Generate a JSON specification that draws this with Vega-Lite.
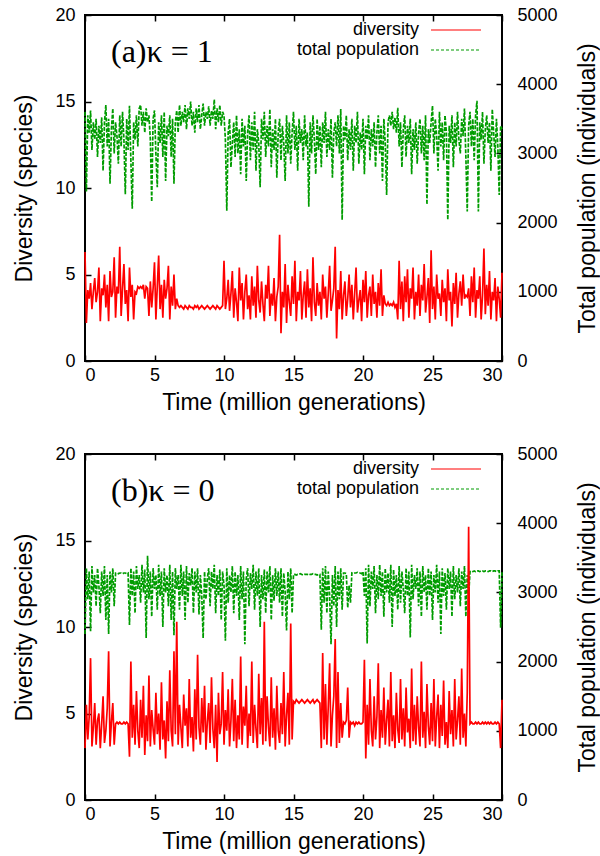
{
"$schema": "https://vega.github.io/schema/vega-lite/v6.json",
"padding": {"left": 12, "top": 5, "right": 0, "bottom": 2},
"spacing": 29,
"config": {
 "font": "Liberation Sans",
 "view": {"stroke": "black", "strokeWidth": 2},
 "axis": {"domain": false, "grid": false, "labelFont": "Liberation Sans", "labelFontSize": 18, "labelColor": "black", "titleFont": "Liberation Sans", "titleFontSize": 23, "titleFontWeight": "normal", "titleColor": "black", "tickColor": "black", "tickSize": -6, "tickWidth": 1.5}
},
"resolve": {"scale": {"color": "independent", "x": "independent", "y": "independent"}},
"datasets": {
"a": [
{"t":0.0,"d":6.3,"p":3600},{"t":0.1,"d":2.2,"p":2450},{"t":0.2,"d":4.1,"p":3550},{"t":0.3,"d":3.6,"p":3300},{"t":0.4,"d":4.5,"p":3620},{"t":0.5,"d":3.0,"p":3050},{"t":0.6,"d":4.0,"p":3450},{"t":0.7,"d":4.8,"p":3200},{"t":0.8,"d":3.4,"p":3500},{"t":0.9,"d":4.0,"p":2950},
{"t":1.0,"d":5.4,"p":3400},{"t":1.1,"d":2.3,"p":3150},{"t":1.2,"d":4.2,"p":3520},{"t":1.3,"d":3.8,"p":2750},{"t":1.4,"d":5.0,"p":3450},{"t":1.5,"d":3.1,"p":3700},{"t":1.6,"d":4.4,"p":3100},{"t":1.7,"d":2.3,"p":3500},{"t":1.8,"d":5.2,"p":2560},{"t":1.9,"d":3.7,"p":3350},
{"t":2.0,"d":4.0,"p":3650},{"t":2.1,"d":6.0,"p":3000},{"t":2.2,"d":2.5,"p":3450},{"t":2.3,"d":4.3,"p":3250},{"t":2.4,"d":3.9,"p":2850},{"t":2.5,"d":6.6,"p":3550},{"t":2.6,"d":2.6,"p":3100},{"t":2.7,"d":4.2,"p":3600},{"t":2.8,"d":5.6,"p":3200},{"t":2.9,"d":3.3,"p":2410},
{"t":3.0,"d":4.1,"p":3500},{"t":3.1,"d":2.3,"p":3050},{"t":3.2,"d":5.4,"p":3690},{"t":3.3,"d":3.7,"p":2900},{"t":3.4,"d":4.4,"p":2200},{"t":3.5,"d":2.4,"p":3450},{"t":3.6,"d":4.0,"p":3200},{"t":3.7,"d":3.9,"p":3550},{"t":3.8,"d":4.3,"p":3100},{"t":3.9,"d":4.2,"p":3650},
{"t":4.0,"d":4.3,"p":3700},{"t":4.1,"d":4.2,"p":3400},{"t":4.2,"d":4.4,"p":3600},{"t":4.3,"d":3.6,"p":3300},{"t":4.4,"d":4.3,"p":3650},{"t":4.5,"d":4.2,"p":3450},{"t":4.6,"d":2.6,"p":3550},{"t":4.7,"d":4.6,"p":3200},{"t":4.8,"d":3.1,"p":2300},{"t":4.9,"d":4.2,"p":3500},
{"t":5.0,"d":5.7,"p":3620},{"t":5.1,"d":2.4,"p":3000},{"t":5.2,"d":4.3,"p":2510},{"t":5.3,"d":6.1,"p":3450},{"t":5.4,"d":3.0,"p":3150},{"t":5.5,"d":4.4,"p":3550},{"t":5.6,"d":2.5,"p":2950},{"t":5.7,"d":4.7,"p":3600},{"t":5.8,"d":3.6,"p":2600},{"t":5.9,"d":4.2,"p":3400},
{"t":6.0,"d":5.5,"p":3250},{"t":6.1,"d":2.4,"p":3550},{"t":6.2,"d":4.3,"p":2950},{"t":6.3,"d":3.2,"p":3500},{"t":6.4,"d":5.0,"p":2560},{"t":6.5,"d":3.0,"p":3450},{"t":6.6,"d":3.6,"p":3620},{"t":6.7,"d":3.2,"p":3300},{"t":6.8,"d":3.1,"p":3700},{"t":6.9,"d":3.2,"p":3400},
{"t":7.0,"d":3.1,"p":3600},{"t":7.1,"d":3.0,"p":3450},{"t":7.2,"d":3.2,"p":3700},{"t":7.3,"d":3.1,"p":3350},{"t":7.4,"d":3.0,"p":3650},{"t":7.5,"d":3.2,"p":3500},{"t":7.6,"d":3.1,"p":3750},{"t":7.7,"d":3.1,"p":3400},{"t":7.8,"d":3.0,"p":3600},{"t":7.9,"d":3.2,"p":3300},
{"t":8.0,"d":3.1,"p":3650},{"t":8.1,"d":3.2,"p":3450},{"t":8.2,"d":3.0,"p":3700},{"t":8.3,"d":3.1,"p":3350},{"t":8.4,"d":3.2,"p":3550},{"t":8.5,"d":3.1,"p":3720},{"t":8.6,"d":3.0,"p":3400},{"t":8.7,"d":3.1,"p":3600},{"t":8.8,"d":3.2,"p":3500},{"t":8.9,"d":3.1,"p":3680},
{"t":9.0,"d":3.0,"p":3400},{"t":9.1,"d":3.1,"p":3620},{"t":9.2,"d":3.2,"p":3500},{"t":9.3,"d":3.1,"p":3780},{"t":9.4,"d":3.0,"p":3350},{"t":9.5,"d":3.2,"p":3650},{"t":9.6,"d":3.1,"p":3450},{"t":9.7,"d":3.0,"p":3700},{"t":9.8,"d":3.1,"p":3400},{"t":9.9,"d":3.2,"p":3600},
{"t":10.0,"d":5.8,"p":3550},{"t":10.1,"d":3.0,"p":3200},{"t":10.2,"d":3.6,"p":2170},{"t":10.3,"d":4.7,"p":3300},{"t":10.4,"d":2.9,"p":3500},{"t":10.5,"d":3.9,"p":2800},{"t":10.6,"d":5.2,"p":3150},{"t":10.7,"d":2.5,"p":3450},{"t":10.8,"d":4.2,"p":2950},{"t":10.9,"d":3.4,"p":3550},
{"t":11.0,"d":2.3,"p":3000},{"t":11.1,"d":5.4,"p":3350},{"t":11.2,"d":3.5,"p":2700},{"t":11.3,"d":4.5,"p":3500},{"t":11.4,"d":2.4,"p":3100},{"t":11.5,"d":4.0,"p":3400},{"t":11.6,"d":5.0,"p":2600},{"t":11.7,"d":3.0,"p":3300},{"t":11.8,"d":3.8,"p":3550},{"t":11.9,"d":2.4,"p":2900},
{"t":12.0,"d":4.9,"p":3450},{"t":12.1,"d":3.2,"p":3050},{"t":12.2,"d":4.3,"p":3600},{"t":12.3,"d":2.5,"p":2750},{"t":12.4,"d":5.5,"p":3350},{"t":12.5,"d":3.5,"p":3150},{"t":12.6,"d":2.8,"p":2510},{"t":12.7,"d":4.6,"p":3500},{"t":12.8,"d":3.3,"p":3200},{"t":12.9,"d":2.3,"p":3600},
{"t":13.0,"d":4.4,"p":2950},{"t":13.1,"d":3.6,"p":3400},{"t":13.2,"d":5.5,"p":3100},{"t":13.3,"d":2.6,"p":3640},{"t":13.4,"d":3.9,"p":2800},{"t":13.5,"d":3.2,"p":3350},{"t":13.6,"d":4.8,"p":3050},{"t":13.7,"d":2.3,"p":3500},{"t":13.8,"d":3.7,"p":2650},{"t":13.9,"d":4.3,"p":3300},
{"t":14.0,"d":7.3,"p":3500},{"t":14.1,"d":1.6,"p":2900},{"t":14.2,"d":4.0,"p":3400},{"t":14.3,"d":3.1,"p":3150},{"t":14.4,"d":5.6,"p":2600},{"t":14.5,"d":2.2,"p":3550},{"t":14.6,"d":4.4,"p":3000},{"t":14.7,"d":3.4,"p":3450},{"t":14.8,"d":2.6,"p":2850},{"t":14.9,"d":4.9,"p":3300},
{"t":15.0,"d":3.3,"p":3600},{"t":15.1,"d":5.8,"p":3050},{"t":15.2,"d":2.3,"p":3400},{"t":15.3,"d":4.0,"p":2750},{"t":15.4,"d":3.5,"p":3500},{"t":15.5,"d":5.2,"p":3150},{"t":15.6,"d":2.4,"p":3350},{"t":15.7,"d":3.8,"p":2900},{"t":15.8,"d":4.6,"p":3550},{"t":15.9,"d":2.5,"p":3100},
{"t":16.0,"d":5.3,"p":3300},{"t":16.1,"d":3.1,"p":2230},{"t":16.2,"d":4.2,"p":3450},{"t":16.3,"d":2.3,"p":3000},{"t":16.4,"d":6.0,"p":3550},{"t":16.5,"d":3.4,"p":3200},{"t":16.6,"d":2.6,"p":2700},{"t":16.7,"d":4.5,"p":3500},{"t":16.8,"d":3.2,"p":3050},{"t":16.9,"d":4.0,"p":3400},
{"t":17.0,"d":2.4,"p":2800},{"t":17.1,"d":5.0,"p":3450},{"t":17.2,"d":3.6,"p":3150},{"t":17.3,"d":4.3,"p":3600},{"t":17.4,"d":2.5,"p":2950},{"t":17.5,"d":3.9,"p":3350},{"t":17.6,"d":5.5,"p":3050},{"t":17.7,"d":2.9,"p":3500},{"t":17.8,"d":3.5,"p":2650},{"t":17.9,"d":4.2,"p":3300},
{"t":18.0,"d":6.6,"p":3450},{"t":18.1,"d":1.3,"p":3100},{"t":18.2,"d":4.1,"p":3550},{"t":18.3,"d":3.0,"p":3000},{"t":18.4,"d":5.2,"p":3640},{"t":18.5,"d":2.4,"p":2040},{"t":18.6,"d":3.8,"p":3400},{"t":18.7,"d":4.6,"p":3200},{"t":18.8,"d":2.6,"p":3550},{"t":18.9,"d":3.6,"p":2900},
{"t":19.0,"d":5.0,"p":3350},{"t":19.1,"d":3.1,"p":3050},{"t":19.2,"d":4.4,"p":3500},{"t":19.3,"d":2.4,"p":2750},{"t":19.4,"d":3.9,"p":3400},{"t":19.5,"d":5.4,"p":3150},{"t":19.6,"d":2.8,"p":3600},{"t":19.7,"d":3.5,"p":2850},{"t":19.8,"d":4.1,"p":3300},{"t":19.9,"d":2.3,"p":3050},
{"t":20.0,"d":4.7,"p":3500},{"t":20.1,"d":3.4,"p":2700},{"t":20.2,"d":5.2,"p":3400},{"t":20.3,"d":2.5,"p":3200},{"t":20.4,"d":3.8,"p":3550},{"t":20.5,"d":4.3,"p":2900},{"t":20.6,"d":2.6,"p":3350},{"t":20.7,"d":5.0,"p":3100},{"t":20.8,"d":3.3,"p":3450},{"t":20.9,"d":4.0,"p":2800},
{"t":21.0,"d":2.5,"p":3300},{"t":21.1,"d":4.5,"p":3550},{"t":21.2,"d":3.2,"p":3000},{"t":21.3,"d":5.3,"p":3400},{"t":21.4,"d":2.6,"p":2600},{"t":21.5,"d":3.8,"p":3500},{"t":21.6,"d":3.3,"p":3150},{"t":21.7,"d":3.2,"p":2400},{"t":21.8,"d":3.4,"p":3450},{"t":21.9,"d":3.2,"p":3550},
{"t":22.0,"d":3.3,"p":3400},{"t":22.1,"d":3.2,"p":3600},{"t":22.2,"d":3.4,"p":3350},{"t":22.3,"d":3.1,"p":3520},{"t":22.4,"d":3.3,"p":3300},{"t":22.5,"d":2.4,"p":3660},{"t":22.6,"d":5.8,"p":3100},{"t":22.7,"d":3.0,"p":3450},{"t":22.8,"d":4.6,"p":2800},{"t":22.9,"d":2.3,"p":3350},
{"t":23.0,"d":4.9,"p":3550},{"t":23.1,"d":3.4,"p":2950},{"t":23.2,"d":5.3,"p":3400},{"t":23.3,"d":2.5,"p":3150},{"t":23.4,"d":4.2,"p":3500},{"t":23.5,"d":3.6,"p":2700},{"t":23.6,"d":5.4,"p":3350},{"t":23.7,"d":2.4,"p":3050},{"t":23.8,"d":4.0,"p":3450},{"t":23.9,"d":3.2,"p":2850},
{"t":24.0,"d":5.0,"p":3300},{"t":24.1,"d":2.6,"p":3500},{"t":24.2,"d":4.4,"p":3000},{"t":24.3,"d":3.5,"p":3400},{"t":24.4,"d":5.6,"p":2900},{"t":24.5,"d":2.8,"p":3550},{"t":24.6,"d":3.7,"p":2260},{"t":24.7,"d":4.8,"p":3350},{"t":24.8,"d":2.2,"p":3150},{"t":24.9,"d":6.4,"p":3450},
{"t":25.0,"d":3.0,"p":3690},{"t":25.1,"d":4.3,"p":3000},{"t":25.2,"d":2.4,"p":3500},{"t":25.3,"d":5.0,"p":3250},{"t":25.4,"d":3.6,"p":2750},{"t":25.5,"d":3.9,"p":3600},{"t":25.6,"d":2.6,"p":3100},{"t":25.7,"d":4.7,"p":3450},{"t":25.8,"d":3.4,"p":2900},{"t":25.9,"d":4.2,"p":3550},
{"t":26.0,"d":2.3,"p":3300},{"t":26.1,"d":5.3,"p":2040},{"t":26.2,"d":3.5,"p":3400},{"t":26.3,"d":4.0,"p":3150},{"t":26.4,"d":2.0,"p":3550},{"t":26.5,"d":4.5,"p":2800},{"t":26.6,"d":3.3,"p":3450},{"t":26.7,"d":5.1,"p":3100},{"t":26.8,"d":2.5,"p":3600},{"t":26.9,"d":3.9,"p":3200},
{"t":27.0,"d":4.6,"p":3000},{"t":27.1,"d":3.2,"p":3500},{"t":27.2,"d":5.0,"p":3250},{"t":27.3,"d":3.6,"p":3650},{"t":27.4,"d":3.8,"p":2950},{"t":27.5,"d":3.7,"p":2160},{"t":27.6,"d":4.2,"p":3400},{"t":27.7,"d":2.6,"p":3600},{"t":27.8,"d":4.9,"p":3100},{"t":27.9,"d":3.4,"p":3500},
{"t":28.0,"d":5.4,"p":2900},{"t":28.1,"d":2.5,"p":3550},{"t":28.2,"d":4.1,"p":3760},{"t":28.3,"d":3.6,"p":2160},{"t":28.4,"d":4.9,"p":3450},{"t":28.5,"d":2.4,"p":3200},{"t":28.6,"d":3.8,"p":3600},{"t":28.7,"d":6.5,"p":2850},{"t":28.8,"d":2.7,"p":3350},{"t":28.9,"d":4.4,"p":3550},
{"t":29.0,"d":3.2,"p":3150},{"t":29.1,"d":5.2,"p":3450},{"t":29.2,"d":2.4,"p":2750},{"t":29.3,"d":4.0,"p":3640},{"t":29.4,"d":3.5,"p":3300},{"t":29.5,"d":4.8,"p":2950},{"t":29.6,"d":2.3,"p":3500},{"t":29.7,"d":4.3,"p":3100},{"t":29.8,"d":3.6,"p":2400},{"t":29.9,"d":2.5,"p":3400},
{"t":30.0,"d":5.1,"p":3350}
],
"b": [
{"t":0.0,"d":3.0,"p":2400},{"t":0.1,"d":5.5,"p":3350},{"t":0.2,"d":3.5,"p":2900},{"t":0.3,"d":4.8,"p":3300},{"t":0.4,"d":8.2,"p":2440},{"t":0.5,"d":3.1,"p":3380},{"t":0.6,"d":4.2,"p":3000},{"t":0.7,"d":5.6,"p":3250},{"t":0.8,"d":3.2,"p":2800},{"t":0.9,"d":4.6,"p":3350},
{"t":1.0,"d":5.0,"p":3100},{"t":1.1,"d":3.0,"p":2700},{"t":1.2,"d":4.4,"p":3300},{"t":1.3,"d":6.0,"p":2950},{"t":1.4,"d":3.3,"p":3380},{"t":1.5,"d":4.0,"p":2600},{"t":1.6,"d":5.3,"p":3250},{"t":1.7,"d":8.6,"p":2400},{"t":1.8,"d":3.1,"p":3300},{"t":1.9,"d":4.5,"p":3000},
{"t":2.0,"d":5.6,"p":3350},{"t":2.1,"d":3.2,"p":2800},{"t":2.2,"d":4.4,"p":3280},{"t":2.3,"d":4.5,"p":3280},{"t":2.4,"d":4.4,"p":3270},{"t":2.5,"d":4.5,"p":3280},{"t":2.6,"d":4.4,"p":3280},{"t":2.7,"d":4.4,"p":3270},{"t":2.8,"d":4.5,"p":3280},{"t":2.9,"d":4.4,"p":3280},
{"t":3.0,"d":4.5,"p":3270},{"t":3.1,"d":4.4,"p":3280},{"t":3.2,"d":2.5,"p":2530},{"t":3.3,"d":8.0,"p":3350},{"t":3.4,"d":3.6,"p":2950},{"t":3.5,"d":5.5,"p":3300},{"t":3.6,"d":3.2,"p":2700},{"t":3.7,"d":6.3,"p":3380},{"t":3.8,"d":4.0,"p":3050},{"t":3.9,"d":3.0,"p":3250},
{"t":4.0,"d":5.8,"p":2850},{"t":4.1,"d":3.6,"p":3400},{"t":4.2,"d":6.6,"p":3000},{"t":4.3,"d":2.6,"p":3330},{"t":4.4,"d":4.9,"p":2340},{"t":4.5,"d":3.4,"p":3530},{"t":4.6,"d":7.2,"p":2900},{"t":4.7,"d":3.1,"p":3300},{"t":4.8,"d":5.2,"p":2650},{"t":4.9,"d":4.1,"p":3350},
{"t":5.0,"d":3.2,"p":3050},{"t":5.1,"d":6.2,"p":3250},{"t":5.2,"d":3.8,"p":2750},{"t":5.3,"d":5.0,"p":3400},{"t":5.4,"d":2.9,"p":2950},{"t":5.5,"d":6.8,"p":3300},{"t":5.6,"d":3.5,"p":2500},{"t":5.7,"d":4.6,"p":3350},{"t":5.8,"d":2.4,"p":3000},{"t":5.9,"d":5.7,"p":3250},
{"t":6.0,"d":3.4,"p":2800},{"t":6.1,"d":7.5,"p":3400},{"t":6.2,"d":4.0,"p":2600},{"t":6.3,"d":3.1,"p":3300},{"t":6.4,"d":8.6,"p":2380},{"t":6.5,"d":3.8,"p":3350},{"t":6.6,"d":10.3,"p":3050},{"t":6.7,"d":3.2,"p":3250},{"t":6.8,"d":5.5,"p":2750},{"t":6.9,"d":4.2,"p":3400},
{"t":7.0,"d":3.0,"p":2950},{"t":7.1,"d":6.1,"p":3300},{"t":7.2,"d":4.3,"p":2600},{"t":7.3,"d":5.3,"p":3380},{"t":7.4,"d":3.1,"p":2850},{"t":7.5,"d":7.0,"p":3280},{"t":7.6,"d":3.6,"p":3100},{"t":7.7,"d":4.8,"p":3350},{"t":7.8,"d":2.8,"p":2700},{"t":7.9,"d":6.4,"p":3300},
{"t":8.0,"d":3.5,"p":3000},{"t":8.1,"d":8.4,"p":3350},{"t":8.2,"d":4.2,"p":2680},{"t":8.3,"d":3.2,"p":3250},{"t":8.4,"d":5.9,"p":2950},{"t":8.5,"d":3.9,"p":2340},{"t":8.6,"d":6.6,"p":3300},{"t":8.7,"d":2.9,"p":2900},{"t":8.8,"d":4.5,"p":3200},{"t":8.9,"d":5.6,"p":3350},
{"t":9.0,"d":3.3,"p":2800},{"t":9.1,"d":7.1,"p":3300},{"t":9.2,"d":4.1,"p":3050},{"t":9.3,"d":3.0,"p":3400},{"t":9.4,"d":5.5,"p":2700},{"t":9.5,"d":2.2,"p":3250},{"t":9.6,"d":6.2,"p":2950},{"t":9.7,"d":3.8,"p":3330},{"t":9.8,"d":4.4,"p":2600},{"t":9.9,"d":7.4,"p":3300},
{"t":10.0,"d":3.2,"p":3100},{"t":10.1,"d":5.2,"p":2300},{"t":10.2,"d":4.0,"p":3350},{"t":10.3,"d":6.4,"p":2850},{"t":10.4,"d":3.1,"p":3250},{"t":10.5,"d":4.6,"p":3000},{"t":10.6,"d":7.0,"p":3380},{"t":10.7,"d":3.4,"p":2700},{"t":10.8,"d":5.8,"p":3300},{"t":10.9,"d":3.0,"p":2950},
{"t":11.0,"d":4.9,"p":3250},{"t":11.1,"d":3.5,"p":2600},{"t":11.2,"d":8.3,"p":3380},{"t":11.3,"d":3.2,"p":2900},{"t":11.4,"d":5.4,"p":3300},{"t":11.5,"d":4.3,"p":2250},{"t":11.6,"d":6.6,"p":3200},{"t":11.7,"d":3.0,"p":3350},{"t":11.8,"d":5.0,"p":2800},{"t":11.9,"d":3.7,"p":3280},
{"t":12.0,"d":8.0,"p":3050},{"t":12.1,"d":3.3,"p":3400},{"t":12.2,"d":5.5,"p":2750},{"t":12.3,"d":4.1,"p":3300},{"t":12.4,"d":3.0,"p":2950},{"t":12.5,"d":7.3,"p":3350},{"t":12.6,"d":3.8,"p":2500},{"t":12.7,"d":5.9,"p":3250},{"t":12.8,"d":3.2,"p":2900},{"t":12.9,"d":10.3,"p":3330},
{"t":13.0,"d":3.4,"p":2700},{"t":13.1,"d":6.0,"p":3300},{"t":13.2,"d":4.2,"p":3000},{"t":13.3,"d":3.1,"p":3380},{"t":13.4,"d":7.1,"p":2600},{"t":13.5,"d":3.6,"p":3250},{"t":13.6,"d":5.3,"p":2880},{"t":13.7,"d":2.9,"p":3350},{"t":13.8,"d":6.6,"p":2950},{"t":13.9,"d":4.0,"p":3300},
{"t":14.0,"d":3.3,"p":2850},{"t":14.1,"d":5.6,"p":3350},{"t":14.2,"d":3.8,"p":2650},{"t":14.3,"d":7.4,"p":3280},{"t":14.4,"d":3.1,"p":3000},{"t":14.5,"d":4.9,"p":2450},{"t":14.6,"d":6.2,"p":3300},{"t":14.7,"d":3.2,"p":2900},{"t":14.8,"d":10.2,"p":3350},{"t":14.9,"d":3.5,"p":2700},
{"t":15.0,"d":5.7,"p":3260},{"t":15.1,"d":5.6,"p":3260},{"t":15.2,"d":5.8,"p":3250},{"t":15.3,"d":5.7,"p":3260},{"t":15.4,"d":5.6,"p":3260},{"t":15.5,"d":5.7,"p":3270},{"t":15.6,"d":5.8,"p":3260},{"t":15.7,"d":5.7,"p":3250},{"t":15.8,"d":5.6,"p":3260},{"t":15.9,"d":5.7,"p":3260},
{"t":16.0,"d":5.8,"p":3260},{"t":16.1,"d":5.7,"p":3250},{"t":16.2,"d":5.6,"p":3260},{"t":16.3,"d":5.7,"p":3260},{"t":16.4,"d":5.8,"p":3270},{"t":16.5,"d":5.6,"p":3260},{"t":16.6,"d":5.7,"p":3260},{"t":16.7,"d":5.8,"p":3250},{"t":16.8,"d":5.7,"p":3260},{"t":16.9,"d":5.6,"p":3260},
{"t":17.0,"d":3.0,"p":2460},{"t":17.1,"d":8.5,"p":3350},{"t":17.2,"d":3.5,"p":2850},{"t":17.3,"d":6.7,"p":3380},{"t":17.4,"d":3.2,"p":2700},{"t":17.5,"d":5.4,"p":3300},{"t":17.6,"d":7.9,"p":2950},{"t":17.7,"d":3.1,"p":2250},{"t":17.8,"d":4.9,"p":3250},{"t":17.9,"d":6.0,"p":2800},
{"t":18.0,"d":9.3,"p":3380},{"t":18.1,"d":3.0,"p":2500},{"t":18.2,"d":7.4,"p":3300},{"t":18.3,"d":3.3,"p":2900},{"t":18.4,"d":5.6,"p":3350},{"t":18.5,"d":3.6,"p":2750},{"t":18.6,"d":4.5,"p":3280},{"t":18.7,"d":4.4,"p":3280},{"t":18.8,"d":4.6,"p":3270},{"t":18.9,"d":6.5,"p":2780},
{"t":19.0,"d":3.6,"p":3100},{"t":19.1,"d":4.5,"p":2850},{"t":19.2,"d":4.4,"p":3280},{"t":19.3,"d":4.5,"p":3270},{"t":19.4,"d":4.3,"p":3280},{"t":19.5,"d":4.5,"p":3280},{"t":19.6,"d":4.4,"p":3290},{"t":19.7,"d":4.5,"p":3280},{"t":19.8,"d":4.4,"p":3280},{"t":19.9,"d":4.4,"p":3270},
{"t":20.0,"d":4.5,"p":3300},{"t":20.1,"d":8.1,"p":2950},{"t":20.2,"d":2.4,"p":3350},{"t":20.3,"d":5.5,"p":2260},{"t":20.4,"d":3.2,"p":3400},{"t":20.5,"d":7.0,"p":2800},{"t":20.6,"d":4.0,"p":3300},{"t":20.7,"d":3.1,"p":3050},{"t":20.8,"d":6.0,"p":3380},{"t":20.9,"d":3.5,"p":2700},
{"t":21.0,"d":4.8,"p":3250},{"t":21.1,"d":7.9,"p":2900},{"t":21.2,"d":3.0,"p":3400},{"t":21.3,"d":5.2,"p":2950},{"t":21.4,"d":3.6,"p":3300},{"t":21.5,"d":6.5,"p":2650},{"t":21.6,"d":3.2,"p":3350},{"t":21.7,"d":4.6,"p":3000},{"t":21.8,"d":5.8,"p":3280},{"t":21.9,"d":3.1,"p":2850},
{"t":22.0,"d":7.4,"p":3400},{"t":22.1,"d":3.4,"p":2500},{"t":22.2,"d":4.9,"p":3330},{"t":22.3,"d":3.0,"p":2950},{"t":22.4,"d":6.2,"p":3250},{"t":22.5,"d":4.1,"p":2750},{"t":22.6,"d":3.3,"p":3380},{"t":22.7,"d":7.0,"p":2850},{"t":22.8,"d":3.5,"p":3300},{"t":22.9,"d":5.3,"p":3050},
{"t":23.0,"d":3.1,"p":2700},{"t":23.1,"d":6.5,"p":3350},{"t":23.2,"d":3.9,"p":2950},{"t":23.3,"d":4.7,"p":3300},{"t":23.4,"d":3.0,"p":2350},{"t":23.5,"d":7.6,"p":3400},{"t":23.6,"d":3.4,"p":2900},{"t":23.7,"d":5.5,"p":3250},{"t":23.8,"d":3.2,"p":3050},{"t":23.9,"d":6.0,"p":3350},
{"t":24.0,"d":4.2,"p":2800},{"t":24.1,"d":3.1,"p":3300},{"t":24.2,"d":8.0,"p":2650},{"t":24.3,"d":3.6,"p":3380},{"t":24.4,"d":5.1,"p":3000},{"t":24.5,"d":3.0,"p":3250},{"t":24.6,"d":6.7,"p":2750},{"t":24.7,"d":4.3,"p":3350},{"t":24.8,"d":3.2,"p":2950},{"t":24.9,"d":5.6,"p":3300},
{"t":25.0,"d":3.4,"p":2600},{"t":25.1,"d":7.0,"p":3250},{"t":25.2,"d":3.1,"p":3000},{"t":25.3,"d":4.8,"p":3400},{"t":25.4,"d":6.1,"p":2850},{"t":25.5,"d":3.0,"p":3300},{"t":25.6,"d":5.5,"p":2400},{"t":25.7,"d":3.7,"p":3350},{"t":25.8,"d":6.9,"p":2950},{"t":25.9,"d":3.2,"p":3280},
{"t":26.0,"d":4.5,"p":2750},{"t":26.1,"d":3.0,"p":3350},{"t":26.2,"d":6.3,"p":3050},{"t":26.3,"d":3.8,"p":3300},{"t":26.4,"d":5.2,"p":2650},{"t":26.5,"d":3.1,"p":3380},{"t":26.6,"d":7.0,"p":2900},{"t":26.7,"d":3.5,"p":3250},{"t":26.8,"d":4.6,"p":3000},{"t":26.9,"d":6.0,"p":3350},
{"t":27.0,"d":3.2,"p":2800},{"t":27.1,"d":7.6,"p":3300},{"t":27.2,"d":3.6,"p":3050},{"t":27.3,"d":5.0,"p":3380},{"t":27.4,"d":3.1,"p":2650},{"t":27.5,"d":6.2,"p":3250},{"t":27.6,"d":15.8,"p":2950},{"t":27.7,"d":4.4,"p":3300},{"t":27.8,"d":4.5,"p":3310},{"t":27.9,"d":4.4,"p":3300},
{"t":28.0,"d":4.4,"p":3310},{"t":28.1,"d":4.5,"p":3300},{"t":28.2,"d":4.4,"p":3310},{"t":28.3,"d":4.5,"p":3310},{"t":28.4,"d":4.4,"p":3300},{"t":28.5,"d":4.4,"p":3310},{"t":28.6,"d":4.5,"p":3310},{"t":28.7,"d":4.4,"p":3300},{"t":28.8,"d":4.5,"p":3310},{"t":28.9,"d":4.4,"p":3310},
{"t":29.0,"d":4.5,"p":3300},{"t":29.1,"d":4.4,"p":3310},{"t":29.2,"d":4.5,"p":3310},{"t":29.3,"d":4.4,"p":3300},{"t":29.4,"d":4.4,"p":3310},{"t":29.5,"d":4.5,"p":3310},{"t":29.6,"d":4.4,"p":3300},{"t":29.7,"d":4.5,"p":3310},{"t":29.8,"d":4.4,"p":3310},{"t":29.9,"d":3.0,"p":2490},
{"t":30.0,"d":5.8,"p":3300}
]
},
"vconcat": [
{
 "width": 417, "height": 346,
 "layer": [
  {"data": {"name": "a"}, "mark": {"type": "line", "strokeWidth": 1.7, "strokeDash": [4, 1.5]},
   "encoding": {
    "x": {"field": "t", "type": "quantitative", "scale": {"domain": [0, 30], "nice": false}, "axis": {"orient": "top", "values": [0, 5, 10, 15, 20, 25, 30], "labels": false, "title": null}},
    "y": {"field": "p", "type": "quantitative", "scale": {"domain": [0, 5000], "nice": false}, "axis": {"orient": "right", "values": [0, 1000, 2000, 3000, 4000, 5000], "format": "d", "title": "Total population (individuals)", "titleAngle": 270, "titleBaseline": "top", "labelPadding": 21, "titlePadding": 19}},
    "color": {"datum": "total population", "type": "nominal", "scale": {"domain": ["diversity", "total population"], "range": ["#ff0000", "#009c00"]},
     "legend": {"orient": "none", "legendX": 360, "legendY": 4, "title": null, "symbolType": "M-2.5,0H2.5", "symbolSize": 400, "symbolStrokeWidth": 1.2, "labelFont": "Liberation Sans", "labelFontSize": 18, "labelColor": "black", "labelAlign": "right", "labelOffset": -48, "rowPadding": 0, "padding": 0,
      "encode": {"symbols": {"update": {"strokeDash": {"signal": "datum.value === 'total population' ? [3,2] : [1,0]"}}}}}}
   }},
  {"data": {"name": "a"}, "mark": {"type": "line", "strokeWidth": 1.7},
   "encoding": {
    "x": {"field": "t", "type": "quantitative", "axis": {"orient": "bottom", "values": [0, 5, 10, 15, 20, 25, 30], "title": "Time (million generations)", "labelPadding": 11, "titlePadding": 7}},
    "y": {"field": "d", "type": "quantitative", "scale": {"domain": [0, 20], "nice": false}, "axis": {"orient": "left", "values": [0, 5, 10, 15, 20], "title": "Diversity (species)", "labelPadding": 16, "titlePadding": 18}},
    "color": {"datum": "diversity", "type": "nominal"}
   }},
  {"data": {"values": [{"t": 1.87, "d": 17.3, "label": "(a)κ = 1"}]},
   "mark": {"type": "text", "font": "Liberation Serif", "fontSize": 32, "align": "left", "baseline": "alphabetic", "color": "black"},
   "encoding": {
    "x": {"field": "t", "type": "quantitative", "axis": null},
    "y": {"field": "d", "type": "quantitative", "scale": {"domain": [0, 20], "nice": false}, "axis": null},
    "text": {"field": "label"}
   }}
 ],
 "resolve": {"scale": {"y": "independent"}, "axis": {"x": "independent"}}
},
{
 "width": 417, "height": 346,
 "layer": [
  {"data": {"name": "b"}, "mark": {"type": "line", "strokeWidth": 1.7, "strokeDash": [4, 1.5]},
   "encoding": {
    "x": {"field": "t", "type": "quantitative", "scale": {"domain": [0, 30], "nice": false}, "axis": {"orient": "top", "values": [0, 5, 10, 15, 20, 25, 30], "labels": false, "title": null}},
    "y": {"field": "p", "type": "quantitative", "scale": {"domain": [0, 5000], "nice": false}, "axis": {"orient": "right", "values": [0, 1000, 2000, 3000, 4000, 5000], "format": "d", "title": "Total population (individuals)", "titleAngle": 270, "titleBaseline": "top", "labelPadding": 21, "titlePadding": 19}},
    "color": {"datum": "total population", "type": "nominal", "scale": {"domain": ["diversity", "total population"], "range": ["#ff0000", "#009c00"]},
     "legend": {"orient": "none", "legendX": 360, "legendY": 4, "title": null, "symbolType": "M-2.5,0H2.5", "symbolSize": 400, "symbolStrokeWidth": 1.2, "labelFont": "Liberation Sans", "labelFontSize": 18, "labelColor": "black", "labelAlign": "right", "labelOffset": -48, "rowPadding": 0, "padding": 0,
      "encode": {"symbols": {"update": {"strokeDash": {"signal": "datum.value === 'total population' ? [3,2] : [1,0]"}}}}}}
   }},
  {"data": {"name": "b"}, "mark": {"type": "line", "strokeWidth": 1.7},
   "encoding": {
    "x": {"field": "t", "type": "quantitative", "axis": {"orient": "bottom", "values": [0, 5, 10, 15, 20, 25, 30], "title": "Time (million generations)", "labelPadding": 11, "titlePadding": 7}},
    "y": {"field": "d", "type": "quantitative", "scale": {"domain": [0, 20], "nice": false}, "axis": {"orient": "left", "values": [0, 5, 10, 15, 20], "title": "Diversity (species)", "labelPadding": 16, "titlePadding": 18}},
    "color": {"datum": "diversity", "type": "nominal"}
   }},
  {"data": {"values": [{"t": 1.87, "d": 17.3, "label": "(b)κ = 0"}]},
   "mark": {"type": "text", "font": "Liberation Serif", "fontSize": 32, "align": "left", "baseline": "alphabetic", "color": "black"},
   "encoding": {
    "x": {"field": "t", "type": "quantitative", "axis": null},
    "y": {"field": "d", "type": "quantitative", "scale": {"domain": [0, 20], "nice": false}, "axis": null},
    "text": {"field": "label"}
   }}
 ],
 "resolve": {"scale": {"y": "independent"}, "axis": {"x": "independent"}}
}
]
}
